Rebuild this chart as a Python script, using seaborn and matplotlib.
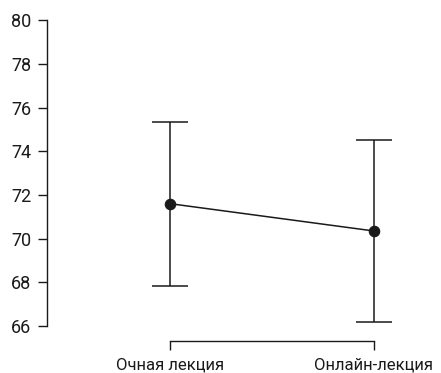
import numpy as np
import pandas as pd
import matplotlib
matplotlib.use("Agg")
import matplotlib.pyplot as plt
import seaborn as sns

# data
groups = ['Очная лекция', 'Онлайн-лекция']
means = [71.6, 70.35]
ci_low = [67.85, 66.2]
ci_high = [75.35, 74.5]
y_ticks = [66, 68, 70, 72, 74, 76, 78, 80]

sns.set_theme(style="ticks")
plt.rcParams['font.family'] = ['Roboto', 'DejaVu Sans']

df = pd.DataFrame({'group': groups, 'score': means})

fig = plt.figure(figsize=(4.41, 3.73), dpi=100)
ax = fig.add_axes([0.1066, 0.126, 0.845, 0.820])

yerr = np.array([np.array(means) - np.array(ci_low), np.array(ci_high) - np.array(means)])
ax.errorbar(range(len(groups)), means, yerr=yerr, fmt='none', ecolor='#1a1a1a',
            elinewidth=1.1, capsize=13, capthick=1.1, zorder=2)
sns.pointplot(data=df, x='group', y='score', ax=ax, color='#1a1a1a', errorbar=None,
              markers='o', markersize=7.5, linewidth=1.1, zorder=3)

ax.set_ylim(66, 80)
ax.set_xlim(-0.603, 1.225)
ax.set_yticks(y_ticks)
ax.set_xlabel('')
ax.set_ylabel('')
ax.tick_params(axis='both', length=6.5, width=1, colors='#1a1a1a', labelsize=13, pad=5)
ax.tick_params(axis='x', labelsize=12, pad=5)
for s in ['left', 'bottom']:
    ax.spines[s].set_linewidth(1)
    ax.spines[s].set_color('#1a1a1a')
sns.despine(ax=ax, offset={'left': 0, 'bottom': 11}, trim=True)

plt.savefig('out.png', dpi=100)
